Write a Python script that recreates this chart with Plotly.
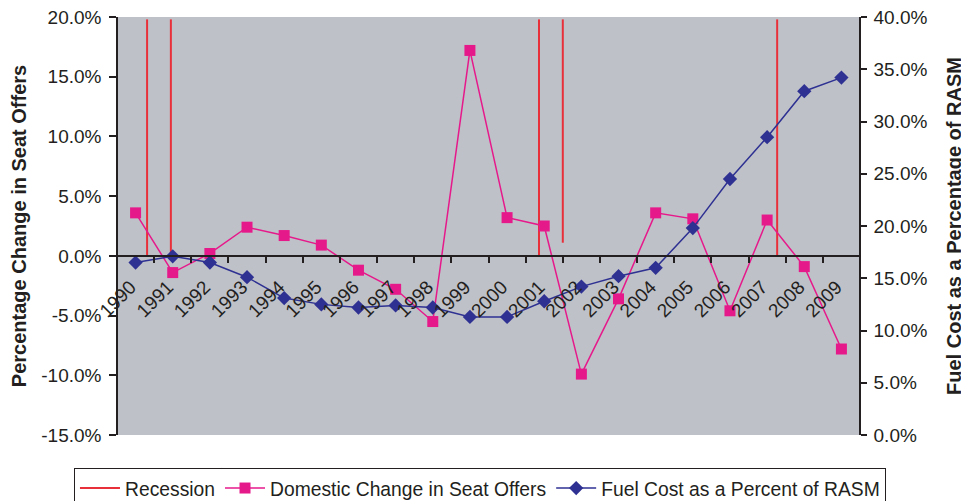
import plotly.graph_objects as go

years = list(range(1990, 2010))
year_labels = [str(y) for y in years]
seat_change = [3.6, -1.4, 0.2, 2.4, 1.7, 0.9, -1.2, -2.8, -5.5, 17.2,
               3.2, 2.5, -9.9, -3.6, 3.6, 3.1, -4.6, 3.0, -0.9, -7.8]
fuel_pct = [16.5, 17.1, 16.5, 15.1, 13.1, 12.5, 12.2, 12.4, 12.2, 11.3,
            11.3, 12.8, 14.2, 15.2, 16.0, 19.8, 24.5, 28.5, 32.9, 34.2]
recession_x = [1990.31, 1990.95, 2000.86, 2001.50, 2007.27]
recession_top = [19.8, 19.8, 19.8, 19.8, 19.8]
recession_bottom = [0.0, 0.0, 0.0, 1.1, 0.0]
left_ticks = [-15, -10, -5, 0, 5, 10, 15, 20]
right_ticks = [0, 5, 10, 15, 20, 25, 30, 35, 40]

PINK = "#E6198B"
NAVY = "#2E3192"
RED = "#E8303A"
INK = "#231F20"
FONT = "Liberation Sans, Arial, sans-serif"

rx, ry = [], []
for x, t, b in zip(recession_x, recession_top, recession_bottom):
    rx += [x, x, None]
    ry += [b, t, None]

boundaries = [years[0] - 0.5 + i for i in range(len(years) + 1)]
zero_pos = 15 / 35

fig = go.Figure()
fig.add_trace(go.Scatter(x=rx, y=ry, mode="lines", name="Recession",
                         line=dict(color=RED, width=2), xaxis="x", yaxis="y"))
fig.add_trace(go.Scatter(x=years, y=seat_change, mode="lines+markers",
                         name="Domestic Change in Seat Offers",
                         line=dict(color=PINK, width=1.5),
                         marker=dict(symbol="square", size=11, color=PINK),
                         xaxis="x", yaxis="y"))
fig.add_trace(go.Scatter(x=years, y=fuel_pct, mode="lines+markers",
                         name="Fuel Cost as a Percent of RASM",
                         line=dict(color=NAVY, width=1.5),
                         marker=dict(symbol="diamond", size=11, color=NAVY),
                         xaxis="x", yaxis="y2"))

xr = [years[0] - 0.5, years[-1] + 0.5]
tickfont = dict(family=FONT, size=19, color=INK)
titlefont = dict(family=FONT, size=20, color=INK, weight="bold")

legend_y = -0.0789

fig.update_layout(
    width=961, height=493,
    margin=dict(l=109, r=109, t=9, b=66, autoexpand=False),
    paper_bgcolor="white",
    plot_bgcolor="#BFC1C8",
    showlegend=True,
    legend=dict(orientation="h", x=-0.0579, xanchor="left", y=legend_y, yanchor="top",
                bordercolor=INK, borderwidth=1, bgcolor="white", itemwidth=40,
                font=dict(family=FONT, size=19.3, color=INK), traceorder="normal"),
    shapes=[dict(type="line", xref="paper", yref="paper", x0=0.1409, x1=0.1409,
                 y0=legend_y, y1=-0.25, line=dict(color=INK, width=1), layer="above")],
    xaxis=dict(range=xr, anchor="free", position=zero_pos, automargin=False,
               tickmode="array", tickvals=years, ticktext=year_labels,
               tickangle=-45, ticks="", showgrid=False, zeroline=False,
               ticklabelstandoff=12, ticklabelshift=-5, ticklabeloverflow="allow",
               showline=True, linecolor=INK, linewidth=1.5, tickfont=tickfont,
               minor=dict(tickmode="array", tickvals=boundaries, ticks="outside",
                          ticklen=6, tickwidth=1.5, tickcolor=INK, showgrid=False)),
    xaxis2=dict(range=xr, anchor="free", position=zero_pos, overlaying="x",
                tickmode="array", tickvals=boundaries, ticks="inside", ticklen=6,
                tickwidth=1.5, tickcolor=INK, showticklabels=False, showgrid=False,
                zeroline=False, showline=False),
    xaxis3=dict(range=xr, anchor="free", position=1, side="top", overlaying="x",
                showticklabels=False, ticks="", showgrid=False, zeroline=False,
                showline=True, linecolor="#9A9A9A", linewidth=1.5),
    yaxis=dict(range=[-15, 20], anchor="free", position=0, automargin=False,
               tickmode="array", tickvals=left_ticks,
               ticktext=[f"{v:.1f}%" for v in left_ticks],
               ticks="outside", ticklen=7, tickwidth=1.5, tickcolor=INK,
               ticklabelstandoff=4, ticklabeloverflow="allow",
               showgrid=False, zeroline=False, showline=True, linecolor=INK,
               linewidth=1.5, tickfont=tickfont,
               title=dict(text="Percentage Change in Seat Offers", font=titlefont, standoff=10)),
    yaxis3=dict(range=[-15, 20], anchor="free", position=0, overlaying="y",
                tickmode="array", tickvals=left_ticks, ticks="inside", ticklen=7,
                tickwidth=1.5, tickcolor=INK, showticklabels=False, showgrid=False,
                zeroline=False, showline=False),
    yaxis2=dict(range=[0, 40], anchor="free", position=1, side="right", overlaying="y",
                automargin=False,
                tickmode="array", tickvals=right_ticks,
                ticktext=[f"{v:.1f}%" for v in right_ticks],
                ticks="outside", ticklen=6, tickwidth=1.5, tickcolor=INK,
                ticklabelstandoff=3, ticklabeloverflow="allow",
                showgrid=False, zeroline=False, showline=True, linecolor=INK,
                linewidth=1.5, tickfont=tickfont,
                title=dict(text="Fuel Cost as a Percentage of RASM", font=titlefont, standoff=19)),
    yaxis4=dict(range=[0, 40], anchor="free", position=1, side="right", overlaying="y",
                tickmode="array", tickvals=right_ticks, ticks="inside", ticklen=6,
                tickwidth=1.5, tickcolor=INK, showticklabels=False, showgrid=False,
                zeroline=False, showline=False),
)

fig.write_html("out.html")
